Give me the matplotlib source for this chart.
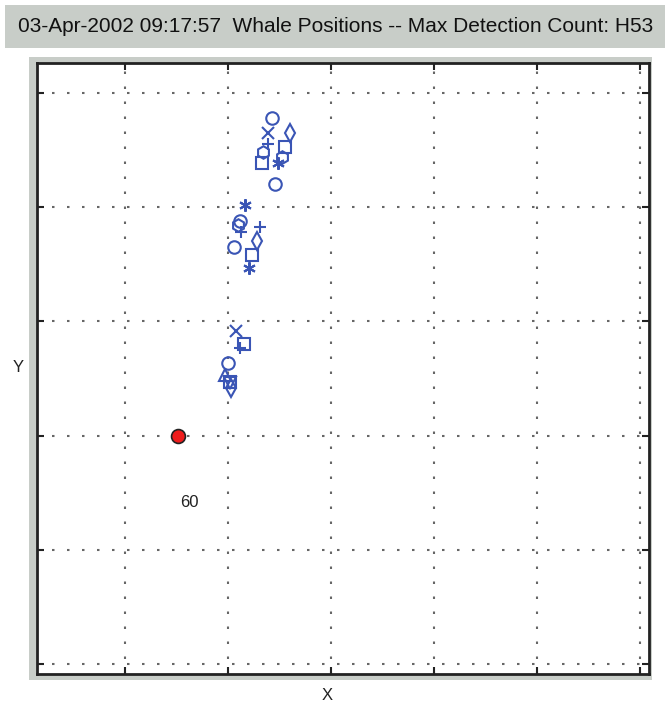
import matplotlib
matplotlib.use("Agg")
import matplotlib.pyplot as plt
from matplotlib.patches import Rectangle

# ---- data (axis units: grid spacing = 1) ----
title = "03-Apr-2002 09:17:57  Whale Positions -- Max Detection Count: H53"
hydrophone_label = "60"
hydrophone_x = [0.51]
hydrophone_y = [2.00]

# whale position estimates, grouped by marker symbol
circle_x = [1.43, 1.46, 1.12, 1.06, 1.00]
circle_y = [4.78, 4.20, 3.88, 3.65, 2.64]
xmark_x = [1.39, 1.08]
xmark_y = [4.65, 2.92]
plus_x = [1.39, 1.31, 1.13, 1.12]
plus_y = [4.55, 3.83, 3.78, 2.77]
star_x = [1.49, 1.17, 1.20]
star_y = [4.39, 4.02, 3.47]
square_x = [1.55, 1.33, 1.23, 1.16, 1.02]
square_y = [4.53, 4.39, 3.58, 2.80, 2.47]
diamond_x = [1.60, 1.28, 1.03]
diamond_y = [4.65, 3.70, 2.42]
hexagram_x = [1.34, 1.52, 1.10]
hexagram_y = [4.48, 4.44, 3.84]
tri_up_x = [0.97]
tri_up_y = [2.53]
tri_down_x = [1.02]
tri_down_y = [2.46]

x_ticks = [0, 1, 2, 3, 4, 5]
y_ticks = [0, 1, 2, 3, 4, 5]

W, H, DPI = 671, 708, 100
fig = plt.figure(figsize=(W / DPI, H / DPI), dpi=DPI)
fig.patch.set_facecolor("white")

def fx(px):
    return px / W

def fy(py):
    return 1 - py / H

gray = "#c8cdc8"
# title box
fig.patches.append(Rectangle((fx(5), fy(48)), fx(660), 43 / H, transform=fig.transFigure,
                             facecolor=gray, edgecolor="none", zorder=-5))
fig.text(fx(336), fy(27), title, ha="center", va="center", fontsize=15,
         family="Liberation Sans", color="#111111")
# axes backing panel
fig.patches.append(Rectangle((fx(29), fy(680)), fx(623), 623 / H, transform=fig.transFigure,
                             facecolor=gray, edgecolor="none", zorder=-5))

ax = fig.add_axes([fx(37), fy(674), fx(612), 611 / H])
ax.set_facecolor("white")
ax.set_xlim(-0.854, 5.087)
ax.set_ylim(-0.088, 5.263)
ax.set_xticks(x_ticks)
ax.set_yticks(y_ticks)
ax.set_xticklabels([])
ax.set_yticklabels([])
ax.tick_params(direction="in", length=5, width=1.5, top=True, right=True, color="#222222")
for s in ax.spines.values():
    s.set_linewidth(2)
    s.set_color("#222222")
ax.grid(True, linestyle=(0, (1.2, 6)), linewidth=1.5, color="#666666")
ax.set_axisbelow(True)

blue = "#3a55b5"
kw = dict(linestyle="none", markerfacecolor="none", markeredgecolor=blue,
          markeredgewidth=1.5, markersize=9)
ax.plot(circle_x, circle_y, marker="o", **kw)
ax.plot(xmark_x, xmark_y, marker="x", **kw)
ax.plot(plus_x, plus_y, marker="+", **kw)
ax.plot(star_x, star_y, marker=(6, 2, 0), **kw)
ax.plot(square_x, square_y, marker="s", **kw)
ax.plot(diamond_x, diamond_y, marker="d", **kw)
ax.plot(hexagram_x, hexagram_y, marker="h", **kw)
ax.plot(tri_up_x, tri_up_y, marker="^", **kw)
ax.plot(tri_down_x, tri_down_y, marker="v", **kw)

ax.plot(hydrophone_x, hydrophone_y, marker="o", linestyle="none", markersize=10,
        markerfacecolor="#ee1c1c", markeredgecolor="#222222", markeredgewidth=1.2)
ax.text(hydrophone_x[0] + 0.12, hydrophone_y[0] - 0.59, hydrophone_label, ha="center",
        va="center", fontsize=12, family="Liberation Sans", color="#222222")

fig.text(fx(327), fy(695), "X", ha="center", va="center", fontsize=12,
         family="Liberation Sans", color="#222222")
fig.text(fx(18), fy(368), "Y", ha="center", va="center", fontsize=12,
         family="Liberation Sans", color="#222222")

fig.savefig("out.png", dpi=DPI)
